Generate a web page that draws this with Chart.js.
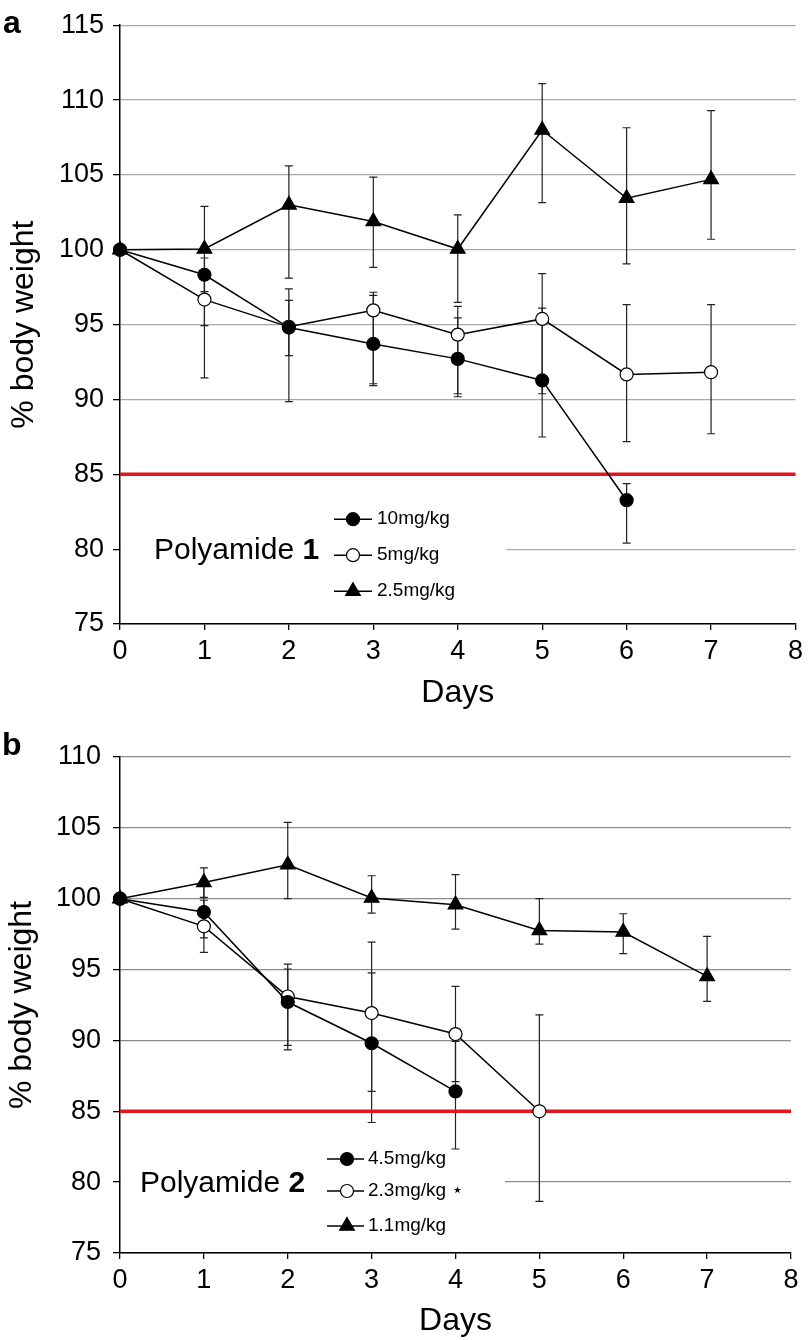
<!DOCTYPE html>
<html>
<head>
<meta charset="utf-8">
<script src="https://cdn.jsdelivr.net/npm/chart.js@4.4.0/dist/chart.umd.min.js"></script>
<style>
  html, body { margin: 0; padding: 0; background: #fff; }
  .panel { position: absolute; left: 0; width: 808px; }
  #panelA { top: 0; height: 720px; }
  #panelB { top: 720px; height: 620px; }
</style>
</head>
<body>
<div class="panel" id="panelA"><canvas id="chartA"></canvas></div>
<div class="panel" id="panelB"><canvas id="chartB"></canvas></div>
<script>
// x values shared by both panels
const days = [0, 1, 2, 3, 4, 5, 6, 7];
const xTicks = [0, 1, 2, 3, 4, 5, 6, 7, 8];
const threshold = 85;

// Panel a - Polyamide 1
const a10 = [100, 98.33, 94.8, 93.71, 92.71, 91.27, 83.27, null];
const a10Low = [null, 91.44, 89.85, 90.93, 90.18, 87.49, 80.4, null];
const a10High = [null, 99.45, 96.62, 96.95, 95.45, 96.1, 84.38, null];
const a5 = [100, 96.67, 94.85, 95.95, 94.33, 95.38, 91.67, 91.82];
const a5Low = [null, 94.93, 92.93, 91.05, 90.38, 90.38, 87.18, 87.71];
const a5High = [null, 98.4, 97.38, 97.16, 96.22, 98.4, 96.33, 96.33];
const a25 = [100, 100.05, 103.0, 101.89, 100.05, 108.0, 103.44, 104.7];
const a25Low = [null, 97.2, 98.1, 98.82, 96.49, 103.15, 99.05, 100.7];
const a25High = [null, 102.9, 105.6, 104.85, 102.33, 111.1, 108.15, 109.3];
const aLabels = ['10mg/kg', '5mg/kg', '2.5mg/kg'];

// Panel b - Polyamide 2
const b45 = [100, 99.06, 92.71, 89.8, 86.4, null, null, null];
const b45Low = [null, 97.23, 89.34, 84.21, 82.34, null, null, null];
const b45High = [null, 100.9, 95.04, 94.76, 89.93, null, null, null];
const b23 = [100, 98.05, 93.1, 91.93, 90.45, 85.0, null, null];
const b23Low = [null, 96.21, 89.65, 86.4, 87.1, 78.64, null, null];
const b23High = [null, 99.89, 95.39, 96.94, 93.81, 91.81, null, null];
const b11 = [100, 101.15, 102.4, 100.05, 99.58, 97.76, 97.65, 94.52];
const b11Low = [null, 100.1, 100.0, 98.99, 97.86, 96.8, 96.12, 92.75];
const b11High = [null, 102.17, 105.38, 101.62, 101.7, 100.0, 98.94, 97.34];
const bLabels = ['4.5mg/kg', '2.3mg/kg \u22c6', '1.1mg/kg'];

const FONT = "'Liberation Sans', Arial, Helvetica, 'DejaVu Sans', sans-serif";

const markerStyles = [
    { pointStyle: 'circle', fill: '#000', radius: 6.5 },
    { pointStyle: 'circle', fill: '#fff', radius: 6.5 },
    { pointStyle: 'triangle', fill: '#000', radius: 8.5 }
];

function toPoints(values) {
    const pts = [];
    values.forEach((v, i) => { if (v != null) pts.push({ x: days[i], y: v }); });
    return pts;
}

function drawMarker(ctx, style, x, y) {
    ctx.beginPath();
    if (style.pointStyle === 'circle') {
        ctx.arc(x, y, style.radius, 0, Math.PI * 2);
    } else {
        let rad = 0;
        const r = style.radius;
        ctx.moveTo(x + Math.sin(rad) * r, y - Math.cos(rad) * r);
        rad += Math.PI * 2 / 3;
        ctx.lineTo(x + Math.sin(rad) * r, y - Math.cos(rad) * r);
        rad += Math.PI * 2 / 3;
        ctx.lineTo(x + Math.sin(rad) * r, y - Math.cos(rad) * r);
        ctx.closePath();
    }
    ctx.fillStyle = style.fill;
    ctx.fill();
    ctx.strokeStyle = '#000';
    ctx.lineWidth = 1.2;
    ctx.stroke();
}

function createPanel(canvasId, p) {
    // extras: legend backing box, error bars, legend, labels
    const extras = {
        id: 'extras',
        beforeDatasetsDraw(chart) {
            const { ctx, chartArea, scales: { x, y } } = chart;
            ctx.save();
            // white backing behind the legend (hides part of the 80 gridline)
            const bTop = y.getPixelForValue(p.box[1]);
            const bBottom = y.getPixelForValue(p.box[2]);
            ctx.fillStyle = '#fff';
            ctx.fillRect(chartArea.left + 1, bTop, x.getPixelForValue(p.box[0]) - chartArea.left - 1, bBottom - bTop);

            ctx.strokeStyle = '#222';
            ctx.lineWidth = 1.2;
            p.series.forEach(s => {
                days.forEach((d, i) => {
                    if (s.low[i] == null) return;
                    const px = x.getPixelForValue(d);
                    const y1 = y.getPixelForValue(s.low[i]);
                    const y2 = y.getPixelForValue(s.high[i]);
                    ctx.beginPath();
                    ctx.moveTo(px, y1); ctx.lineTo(px, y2);
                    ctx.moveTo(px - 4, y1); ctx.lineTo(px + 4, y1);
                    ctx.moveTo(px - 4, y2); ctx.lineTo(px + 4, y2);
                    ctx.stroke();
                });
            });
            ctx.restore();
        },
        afterDraw(chart) {
            const { ctx, chartArea } = chart;
            const L = chartArea.left, T = chartArea.top;
            ctx.save();
            // legend
            p.series.forEach((s, i) => {
                const ry = T + p.legend.rows[i];
                ctx.strokeStyle = '#000';
                ctx.lineWidth = 1.5;
                ctx.beginPath();
                ctx.moveTo(L + p.legend.x1, ry);
                ctx.lineTo(L + p.legend.x2, ry);
                ctx.stroke();
                drawMarker(ctx, markerStyles[i], L + p.legend.mx, ry);
                ctx.fillStyle = '#000';
                ctx.font = '19px ' + FONT;
                ctx.textBaseline = 'middle';
                ctx.textAlign = 'left';
                ctx.fillText(s.label, L + p.legend.tx, ry);
            });
            // compound name
            ctx.font = '30px ' + FONT;
            ctx.textBaseline = 'middle';
            const nx = L + p.name.x, ny = T + p.name.y;
            ctx.fillText('Polyamide ', nx, ny);
            const w = ctx.measureText('Polyamide ').width;
            ctx.font = 'bold 30px ' + FONT;
            ctx.fillText(p.name.num, nx + w, ny);
            // panel letter
            ctx.font = 'bold 32px ' + FONT;
            ctx.textBaseline = 'alphabetic';
            ctx.fillText(p.letter, p.letterPos[0], p.letterPos[1]);
            ctx.restore();
        }
    };

    const datasets = p.series.map((s, i) => ({
        label: s.label,
        data: toPoints(s.values),
        showLine: true,
        borderColor: '#000',
        borderWidth: 1.5,
        pointStyle: markerStyles[i].pointStyle,
        pointRadius: markerStyles[i].radius,
        pointBackgroundColor: markerStyles[i].fill,
        pointBorderColor: '#000',
        pointBorderWidth: 1.2,
        clip: false,
        order: i
    }));
    datasets.push({
        label: 'threshold',
        data: [{ x: xTicks[0], y: threshold }, { x: xTicks[xTicks.length - 1], y: threshold }],
        showLine: true,
        borderColor: '#e3161e',
        borderWidth: 3.5,
        pointRadius: 0,
        clip: false,
        order: 10
    });

    return new Chart(document.getElementById(canvasId), {
        type: 'scatter',
        data: { datasets },
        plugins: [extras],
        options: {
            responsive: true,
            maintainAspectRatio: false,
            animation: false,
            layout: { padding: { top: p.padTop, right: p.padRight, bottom: 0, left: 0 } },
            plugins: { legend: { display: false }, tooltip: { enabled: false } },
            scales: {
                x: {
                    type: 'linear',
                    min: 0,
                    max: 8,
                    afterFit: s => { s.height = p.xHeight; },
                    afterBuildTicks: s => { s.ticks = xTicks.map(v => ({ value: v })); },
                    grid: { drawOnChartArea: false, color: '#000', tickLength: 6, lineWidth: 1.3 },
                    border: { color: '#000', width: 1.5 },
                    ticks: { color: '#000', padding: 5, font: { size: 27, family: FONT } },
                    title: {
                        display: true, text: 'Days', color: '#000',
                        font: { size: 32, family: FONT }, padding: { top: 0, bottom: p.xTitlePad }
                    }
                },
                y: {
                    min: 75,
                    max: p.yMax,
                    afterFit: s => { s.width = 120; },
                    ticks: { stepSize: 5, color: '#000', padding: p.yTickPad, font: { size: 27, family: FONT } },
                    grid: { color: p.gridColor, lineWidth: 1.3, tickColor: '#000', tickLength: 7 },
                    border: { color: '#000', width: 1.5 },
                    title: {
                        display: true, text: '% body weight', color: '#000',
                        font: { size: 32, family: FONT }, padding: { top: p.yTitlePad, bottom: 0 }
                    }
                }
            }
        }
    });
}

createPanel('chartA', {
    letter: 'a', letterPos: [3, 33],
    yMax: 115, padTop: 25, padRight: 11, xHeight: 96, xTitlePad: 8, yTickPad: 9, yTitlePad: 5,
    gridColor: '#a8a8a8',
    box: [4.58, 83.6, 76.2],
    legend: { x1: 214, x2: 252, mx: 233, tx: 257, rows: [494, 530, 566] },
    name: { x: 34, y: 526, num: '1' },
    series: [
        { label: aLabels[0], values: a10, low: a10Low, high: a10High },
        { label: aLabels[1], values: a5, low: a5Low, high: a5High },
        { label: aLabels[2], values: a25, low: a25Low, high: a25High }
    ]
});

createPanel('chartB', {
    letter: 'b', letterPos: [2, 35],
    yMax: 110, padTop: 37, padRight: 17, xHeight: 87, xTitlePad: 0, yTickPad: 12, yTitlePad: 3,
    gridColor: '#8c8c8c',
    box: [4.59, 81.5, 76.2],
    legend: { x1: 207, x2: 244, mx: 227, tx: 248, rows: [402, 434, 469] },
    name: { x: 20, y: 427, num: '2' },
    series: [
        { label: bLabels[0], values: b45, low: b45Low, high: b45High },
        { label: bLabels[1], values: b23, low: b23Low, high: b23High },
        { label: bLabels[2], values: b11, low: b11Low, high: b11High }
    ]
});
</script>
</body>
</html>
